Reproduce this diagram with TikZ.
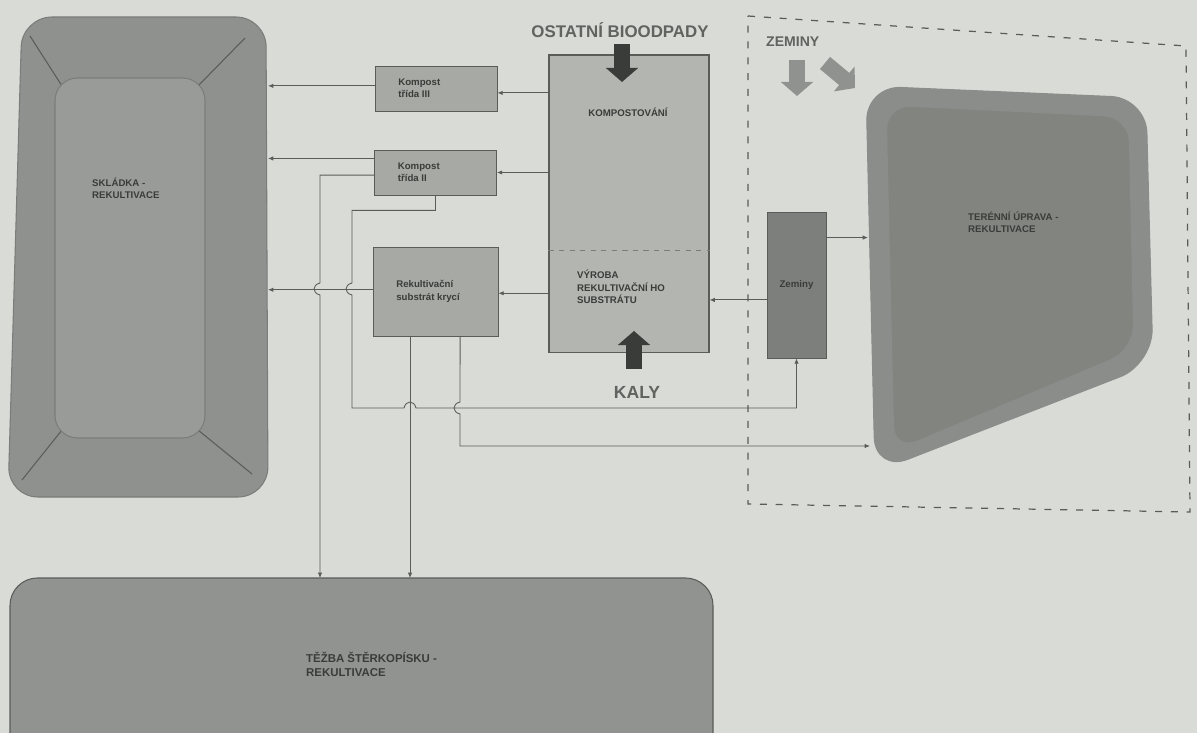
\documentclass[tikz,border=0pt]{standalone}
\usepackage{fontspec}
\setmainfont{Liberation Sans}
\usetikzlibrary{arrows.meta,positioning,calc}

\definecolor{paper}{HTML}{D8DBD6}
\definecolor{boxgrey}{HTML}{A7A9A5}
\definecolor{biggrey}{HTML}{B3B5B1}
\definecolor{darkgrey}{HTML}{7C7F7B}
\definecolor{fieldout}{HTML}{8E918D}
\definecolor{fieldin}{HTML}{989B97}
\definecolor{terout}{HTML}{8A8D89}
\definecolor{terin}{HTML}{81847F}
\definecolor{inkgrey}{HTML}{3A3C3A}
\definecolor{linegrey}{HTML}{5A5C5A}

\begin{document}
\begin{tikzpicture}[x=0.02cm,y=-0.02cm]

\def\boxw{2.44cm}
\def\boxh{0.9cm}

\tikzset{
    smallbox/.style={
        draw=linegrey,
        fill=boxgrey,
        line width=0.5pt,
        minimum width=\boxw,
        minimum height=\boxh,
        inner sep=0pt
    },
    boxtext/.style={
        font=\bfseries\fontsize{5.5}{7}\selectfont,
        text=inkgrey,
        align=left
    },
    bigtext/.style={
        font=\bfseries\fontsize{9.6}{11}\selectfont,
        text=inkgrey!80
    },
    conn/.style={
        draw=linegrey,
        line width=0.5pt,
        -{Latex[length=3pt,width=2.5pt]}
    },
    blockarrow/.style={
        line width=9pt,
        -{Triangle[width=18pt,length=8pt]}
    }
}

% Background
\useasboundingbox (0,0) rectangle (1197,733);
\fill[paper] (0,0) rectangle (1197,733);

% Landfill
\filldraw[fill=fieldout, draw=linegrey!80, line width=0.6pt, rounded corners=0.6cm]
    (22,17) -- (266,17) -- (268,497) -- (8,497) -- cycle;
\foreach \ix/\iy/\ox/\oy in {62/86/30/36, 198/86/245/38, 198/430/252/474, 62/430/22/480}{
    \draw[linegrey, line width=0.6pt] (\ix,\iy) -- (\ox,\oy);
}
\filldraw[fill=fieldin, draw=linegrey!80, line width=0.6pt, rounded corners=0.45cm]
    (55,78) rectangle (205,438);
\node[boxtext, anchor=west] (skltxt) at (86,188) {SKLÁDKA -\\REKULTIVACE};
\coordinate (sklE) at (268,0);

% Gravel pit
\filldraw[fill=fieldin!95!black, draw=linegrey, line width=0.6pt, rounded corners=0.55cm]
    (10,578) rectangle (713,760);
\coordinate (tezN) at (0,578);
\node[boxtext, anchor=west, font=\bfseries\fontsize{6.5}{8}\selectfont] (teztxt) at (300,664)
    {TĚŽBA ŠTĚRKOPÍSKU -\\REKULTIVACE};

% Terrain
\filldraw[fill=terout, draw=linegrey!70, line width=0.6pt, rounded corners=0.7cm]
    (866,86) -- (1146,98) -- (1153,364) -- (875,472) -- cycle;
\filldraw[fill=terin, draw=linegrey!70, line width=0.6pt, rounded corners=0.5cm]
    (886,105) -- (1129,117) -- (1134,350) -- (894,451) -- cycle;
\node[boxtext, anchor=west] (tertxt) at (962,222) {TERÉNNÍ ÚPRAVA -\\REKULTIVACE};
\coordinate (terW) at (868,0);
\coordinate (terS) at (870,446);

% Soil zone
\draw[linegrey, dashed, dash pattern=on 4pt off 5pt, line width=0.7pt]
    (748,16) -- (1186,46) -- (1190,512) -- (748,504) -- cycle;

% Composting plant
\node[draw=linegrey, fill=biggrey, line width=0.6pt, minimum width=3.2cm, minimum height=5.96cm,
    inner sep=0pt] (big) at (629,204) {};
\coordinate (cut) at (0,250);
\draw[linegrey!80, dashed, line width=0.5pt] (big.west |- cut) -- (big.east |- cut);
\node[boxtext] (komp) at (628,112) {KOMPOSTOVÁNÍ};
\node[boxtext, anchor=west] (vyr) at (571,287) {VÝROBA\\REKULTIVAČNÍ HO\\SUBSTRÁTU};

% Products
\node[smallbox] (k3) at (436,88.5) {};
\node[boxtext, anchor=west] at ([xshift=10pt]k3.west) {Kompost\\třída III};
\node[smallbox] (k2) at (435.5,172.5) {};
\node[boxtext, anchor=west] at ([xshift=10pt]k2.west) {Kompost\\třída II};
\node[smallbox, minimum width=2.5cm, minimum height=1.78cm] (rek) at (435.5,291.5) {};
\node[boxtext, anchor=west] at ([xshift=10pt]rek.west) {Rekultivační\\substrát krycí};
\node[smallbox, fill=darkgrey, minimum width=1.18cm, minimum height=2.92cm] (zem) at (796.5,285) {};
\node[boxtext] at (zem.center) {Zeminy};

% Inputs
\node[bigtext] (bio) at (620,30) {OSTATNÍ BIOODPADY};
\draw[blockarrow, inkgrey] (622,44) -- (622,82);
\node[bigtext, font=\bfseries\fontsize{10}{11}\selectfont] (kaly) at (637,392) {KALY};
\draw[blockarrow, inkgrey] (634,369) -- (634,331);
\node[bigtext, font=\bfseries\fontsize{8}{9}\selectfont, anchor=west] (zemtxt) at (760,42) {ZEMINY};
\draw[blockarrow, darkgrey!85] (797,60) -- (797,96);
\draw[blockarrow, darkgrey!85] (825,63) -- (855,88);

% Connectors
\draw[conn] ([yshift=-2.5pt]big.west |- k3.east) -- ([yshift=-2.5pt]k3.east);
\draw[conn] ([yshift=1.5pt]k3.west) -- ([yshift=1.5pt]k3.west -| sklE);
\draw[conn] (big.west |- k2.east) -- (k2.east);
\draw[conn] ([yshift=8pt]k2.west) -- ([yshift=8pt]k2.west -| sklE);
\draw[conn] ([yshift=-1pt]big.west |- rek.east) -- ([yshift=-1pt]rek.east);
\draw[conn] ([yshift=1pt]rek.west) -- ([yshift=1pt]rek.west -| sklE);

% Kompost II to gravel pit
\draw[conn] ([yshift=-1.5pt]k2.west) -| (320,283)
    .. controls +(-8,2) and +(-8,-2) .. ++(0,12) -- (320,578);
% Kompost II to soil
\draw[conn] (k2.south) -- ++(0,15) -| (352,283)
    .. controls +(-8,2) and +(-8,-2) .. ++(0,12) |- (404,408)
    .. controls +(2,-8) and +(-2,-8) .. ++(12,0) -| (zem.south);
% Substrate to gravel pit
\draw[conn] ([xshift=-14.5pt]rek.south) -- ([xshift=-14.5pt]rek.south |- tezN);
% Substrate to terrain
\draw[conn] ([xshift=14pt]rek.south) -- (460,402)
    .. controls +(-8,2) and +(-8,-2) .. ++(0,12) |- (terS);
% Soil
\draw[conn] ([yshift=-8.5pt]zem.west) -- ([yshift=-8.5pt]zem.west -| big.east);
\draw[conn] ([yshift=27pt]zem.east) -- ([yshift=27pt]zem.east -| terW);

\end{tikzpicture}
\end{document}
